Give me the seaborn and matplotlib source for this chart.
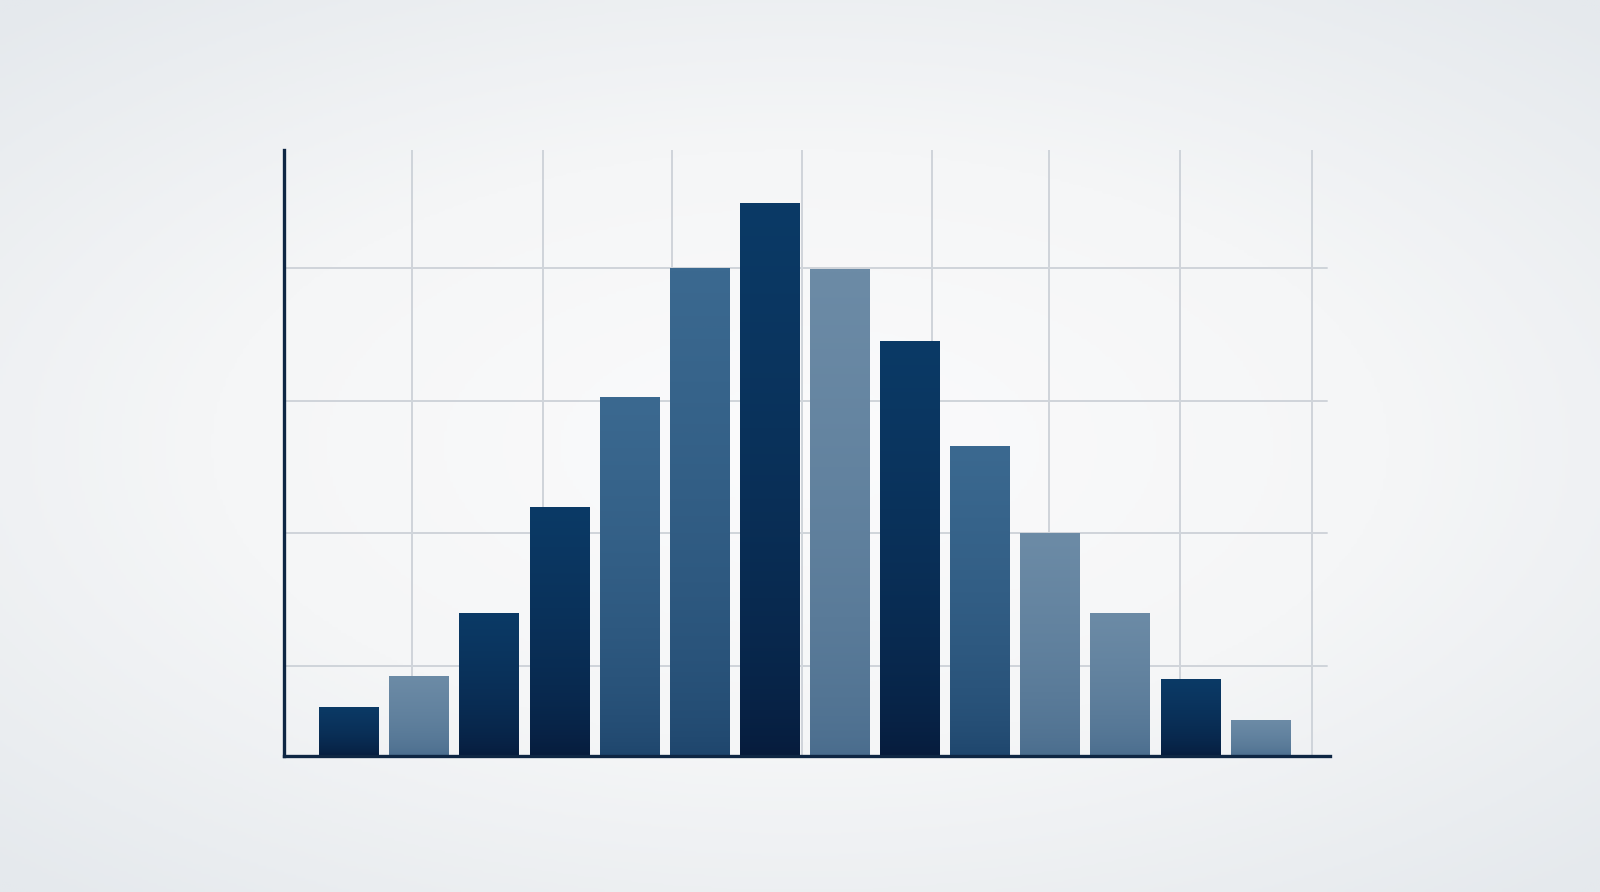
import numpy as np
import pandas as pd
import matplotlib
matplotlib.use("Agg")
import matplotlib.pyplot as plt
import seaborn as sns
from matplotlib.colors import LinearSegmentedColormap

# bar heights (grid step = 10)
bins = [f"b{i:02d}" for i in range(1, 15)]
heights = [3.7, 6.0, 10.8, 18.8, 27.1, 36.8, 41.7, 36.7, 31.3, 23.4, 16.8, 10.8, 5.8, 2.7]
shade = ["dark", "light", "dark", "dark", "mid", "mid", "dark",
         "light", "dark", "mid", "light", "light", "dark", "light"]
ytick_vals = [6.8, 16.8, 26.8, 36.8]
xgrid_vals = [0.90, 2.76, 4.60, 6.46, 8.32, 9.98, 11.85, 13.73]

# top/bottom colours of each shade
grad = {
    "dark": ("#0b3a66", "#061a3a"),
    "mid": ("#3b6990", "#1d446b"),
    "light": ("#6c8ba6", "#486b8c"),
}

df = pd.DataFrame({"bin": bins, "height": heights, "shade": shade})

sns.set_theme(style="white")
fig = plt.figure(figsize=(16, 8.92), dpi=100)

# soft radial background
bg = fig.add_axes([0, 0, 1, 1], zorder=-10)
yy, xx = np.mgrid[-1:1:300j, -1:1:540j]
r = np.sqrt((xx / 1.05) ** 2 + (yy / 0.95) ** 2)
bg_cmap = LinearSegmentedColormap.from_list("bg", ["#fbfbfc", "#f5f6f7", "#e5e9ed"])
bg.imshow(np.clip(r, 0, 1.4), cmap=bg_cmap, aspect="auto", extent=[0, 1, 0, 1])
bg.axis("off")

ax = fig.add_axes([0.1775, 0.1525, 0.65375, 0.6793])
ax.patch.set_alpha(0)

sns.barplot(data=df, x="bin", y="height", color="#0c3c6a", width=0.855,
            saturation=1, ax=ax, zorder=3)

# vertical gradient inside each bar, darker toward the base
for patch, s in zip(ax.patches, df["shade"]):
    x0, y0 = patch.get_x(), patch.get_y()
    w, h = patch.get_width(), patch.get_height()
    cm = LinearSegmentedColormap.from_list(s, [grad[s][1], grad[s][0]])
    g = np.linspace(0, 1, 256).reshape(-1, 1) ** 0.55
    im = ax.imshow(g, cmap=cm, aspect="auto", origin="lower",
                   extent=[x0, x0 + w, y0, y0 + h], zorder=4)
    im.set_clip_path(patch)
    patch.set_facecolor("none")
    patch.set_edgecolor("none")

ax.set_xlim(-0.93, 13.99)
ax.set_ylim(0, 45.7)

for v in ytick_vals:
    ax.axhline(v, xmax=0.997, color="#cfd4da", lw=1.4, zorder=1)
for v in xgrid_vals:
    ax.axvline(v, color="#cfd4da", lw=1.4, zorder=1)

ax.set_xticks([])
ax.set_yticks([])
ax.set_xlabel("")
ax.set_ylabel("")
sns.despine(ax=ax, top=True, right=True)
for side in ("left", "bottom"):
    ax.spines[side].set_color("#0e2643")
    ax.spines[side].set_linewidth(2.4)
    ax.spines[side].set_zorder(6)

fig.savefig("out.png", dpi=100)
